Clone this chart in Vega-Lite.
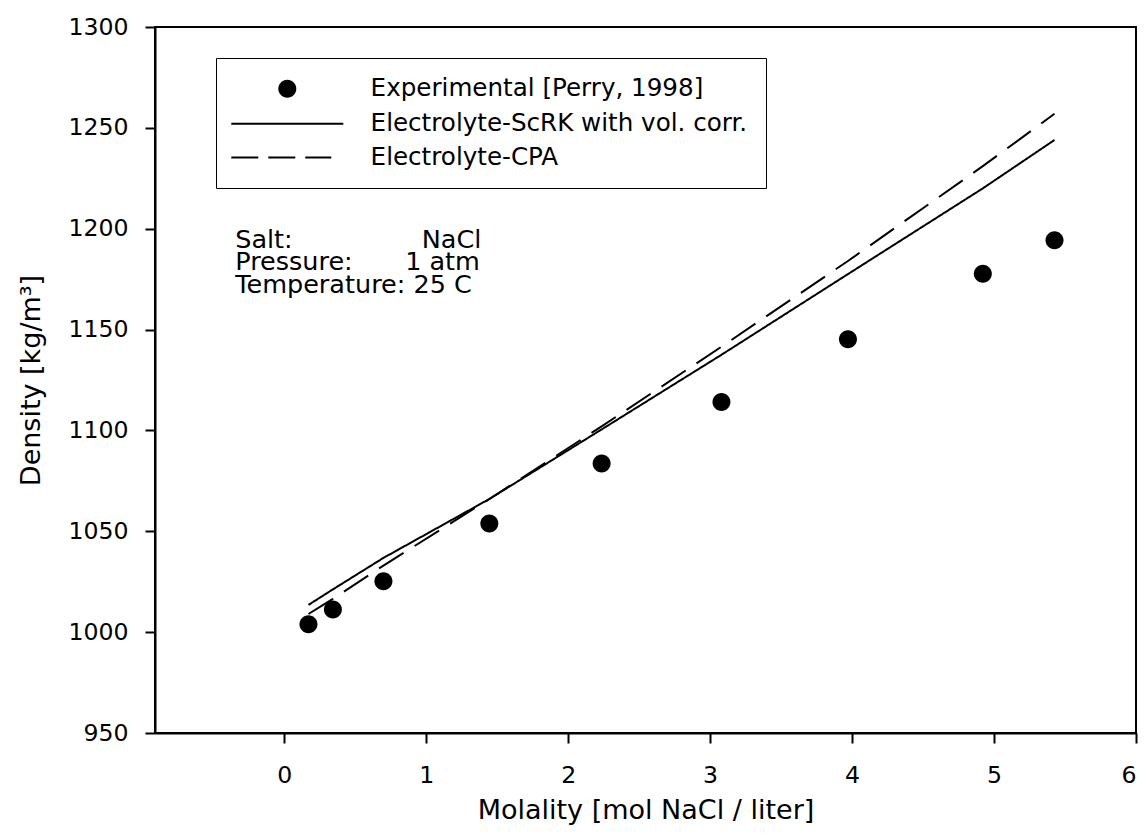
{
  "$schema": "https://vega.github.io/schema/vega-lite/v6.json",
  "width": 981,
  "height": 706,
  "autosize": "none",
  "padding": {"left": 155, "top": 27, "right": 10, "bottom": 107},
  "background": "white",
  "config": {
    "font": "DejaVu Sans",
    "view": {"stroke": "black", "strokeWidth": 2},
    "axis": {
      "grid": false,
      "domainColor": "black",
      "domainWidth": 2,
      "tickColor": "black",
      "tickWidth": 2,
      "tickSize": 10,
      "labelColor": "black",
      "titleColor": "black",
      "labelFont": "DejaVu Sans",
      "titleFont": "DejaVu Sans",
      "labelFontSize": 23.6,
      "titleFontSize": 27,
      "titleFontWeight": "normal"
    }
  },
  "datasets": {
    "exp": [
      {"m": 0.171, "density": 1003.9, "series": "Experimental [Perry, 1998]"},
      {"m": 0.343, "density": 1011.2, "series": "Experimental [Perry, 1998]"},
      {"m": 0.699, "density": 1025.2, "series": "Experimental [Perry, 1998]"},
      {"m": 1.445, "density": 1053.8, "series": "Experimental [Perry, 1998]"},
      {"m": 2.236, "density": 1083.6, "series": "Experimental [Perry, 1998]"},
      {"m": 3.08, "density": 1114.1, "series": "Experimental [Perry, 1998]"},
      {"m": 3.971, "density": 1145.2, "series": "Experimental [Perry, 1998]"},
      {"m": 4.921, "density": 1177.7, "series": "Experimental [Perry, 1998]"},
      {"m": 5.426, "density": 1194.3, "series": "Experimental [Perry, 1998]"}
    ],
    "model": [
      {"m": 0.171, "density": 1013.5, "series": "Electrolyte-ScRK with vol. corr."},
      {"m": 0.343, "density": 1021.2, "series": "Electrolyte-ScRK with vol. corr."},
      {"m": 0.699, "density": 1036.8, "series": "Electrolyte-ScRK with vol. corr."},
      {"m": 1.445, "density": 1066.0, "series": "Electrolyte-ScRK with vol. corr."},
      {"m": 2.236, "density": 1100.5, "series": "Electrolyte-ScRK with vol. corr."},
      {"m": 3.08, "density": 1137.5, "series": "Electrolyte-ScRK with vol. corr."},
      {"m": 3.971, "density": 1177.5, "series": "Electrolyte-ScRK with vol. corr."},
      {"m": 4.921, "density": 1220.0, "series": "Electrolyte-ScRK with vol. corr."},
      {"m": 5.426, "density": 1244.0, "series": "Electrolyte-ScRK with vol. corr."},
      {"m": 0.171, "density": 1009.0, "series": "Electrolyte-CPA"},
      {"m": 0.343, "density": 1016.5, "series": "Electrolyte-CPA"},
      {"m": 0.699, "density": 1033.0, "series": "Electrolyte-CPA"},
      {"m": 1.445, "density": 1066.0, "series": "Electrolyte-CPA"},
      {"m": 2.236, "density": 1102.0, "series": "Electrolyte-CPA"},
      {"m": 3.08, "density": 1141.5, "series": "Electrolyte-CPA"},
      {"m": 3.971, "density": 1184.0, "series": "Electrolyte-CPA"},
      {"m": 4.921, "density": 1231.0, "series": "Electrolyte-CPA"},
      {"m": 5.426, "density": 1257.0, "series": "Electrolyte-CPA"}
    ],
    "notes": [
      {"m": -0.345, "density": 1190.3, "label": "Salt:"},
      {"m": 0.969, "density": 1190.3, "label": "NaCl"},
      {"m": -0.345, "density": 1179.4, "label": "Pressure:"},
      {"m": 0.852, "density": 1179.4, "label": "1 atm"},
      {"m": -0.345, "density": 1168.1, "label": "Temperature: 25 C"}
    ]
  },
  "encoding": {
    "x": {
      "field": "m",
      "type": "quantitative",
      "scale": {"domain": [-0.91, 6], "nice": false, "zero": false},
      "axis": {"values": [0, 1, 2, 3, 4, 5, 6], "title": "Molality [mol NaCl / liter]", "labelPadding": 20, "titlePadding": 11, "format": "d"}
    },
    "y": {
      "field": "density",
      "type": "quantitative",
      "scale": {"domain": [950, 1300], "nice": false, "zero": false},
      "axis": {"values": [950, 1000, 1050, 1100, 1150, 1200, 1250, 1300], "title": "Density [kg/m³]", "labelPadding": 17, "titlePadding": 22, "format": "d"}
    }
  },
  "layer": [
    {
      "data": {"name": "model"},
      "mark": {"type": "line", "color": "black", "strokeWidth": 2},
      "encoding": {
        "strokeDash": {
          "field": "series",
          "type": "nominal",
          "scale": {"domain": ["Electrolyte-ScRK with vol. corr.", "Electrolyte-CPA"], "range": [[1, 0], [29, 13]]},
          "legend": null
        }
      }
    },
    {
      "data": {"name": "exp"},
      "mark": {"type": "point", "filled": true, "color": "black", "size": 400, "opacity": 1},
      "encoding": {
        "shape": {
          "field": "series",
          "type": "nominal",
          "scale": {
            "domain": ["Experimental [Perry, 1998]", "Electrolyte-ScRK with vol. corr.", "Electrolyte-CPA"],
            "range": [
              "M-0.9,0A0.9,0.9 0 1,1 0.9,0A0.9,0.9 0 1,1 -0.9,0Z",
              "M-5.6,-0.1H5.6V0.1H-5.6Z",
              "M-5.6,-0.1H-2.9V0.1H-5.6ZM-1.9,-0.1H0.8V0.1H-1.9ZM1.8,-0.1H4.4V0.1H1.8Z"
            ]
          },
          "legend": {
            "title": null,
            "orient": "none",
            "legendX": 61,
            "legendY": 31,
            "padding": 18.5,
            "strokeColor": "black",
            "fillColor": "white",
            "symbolSize": 400,
            "symbolOffset": 40.5,
            "labelFontSize": 24.6,
            "labelFont": "DejaVu Sans",
            "labelColor": "black",
            "labelLimit": 600,
            "labelOffset": 71,
            "rowPadding": 8.9,
            "encode": {
              "legend": {
                "update": {
                  "strokeWidth": {"value": 1.5}
                }
              },
              "symbols": {
                "update": {
                  "fill": {"value": "black"},
                  "opacity": {"value": 1}
                }
              }
            }
          }
        }
      }
    },
    {
      "data": {"name": "notes"},
      "mark": {"type": "text", "align": "left", "baseline": "alphabetic", "fontSize": 25.5, "font": "DejaVu Sans", "color": "black"},
      "encoding": {
        "text": {"field": "label", "type": "nominal"}
      }
    }
  ]
}
